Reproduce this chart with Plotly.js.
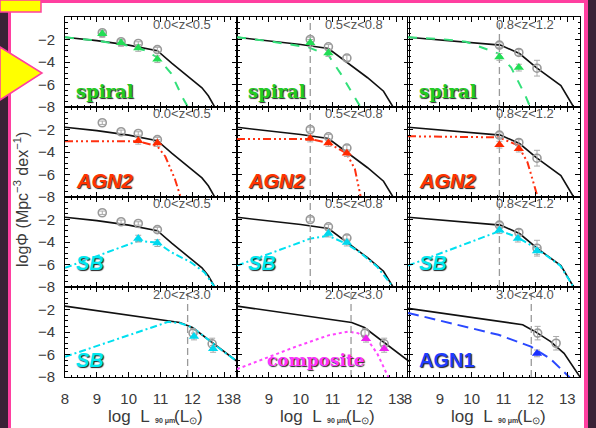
<!DOCTYPE html>
<html><head><meta charset="utf-8">
<script src="https://cdn.plot.ly/plotly-3.0.1.min.js"></script>
<style>html,body{margin:0;padding:0;background:#fff;}#plot{width:596px;height:428px;}</style>
</head><body><div id="plot"></div>
<script>
// ---------- DATA ----------
const xTickVals = [8, 9, 10, 11, 12, 13];
const yTickVals = [-8, -6, -4, -2];
const zLabels = ['0.0<z<0.5', '0.5<z<0.8', '0.8<z<1.2', '2.0<z<3.0', '3.0<z<4.0'];

// total luminosity function (black) per redshift bin
const totL_a = [8, 9, 10, 10.9, 11.35, 11.95, 12.3, 12.5, 12.7];
const totPhi_a = [-1.8, -2.1, -2.5, -3.0, -4.1, -5.5, -6.3, -7.0, -8.0];
const totL_b = [8, 9, 10, 10.87, 11.4, 12.1, 12.6, 12.9];
const totPhi_b = [-1.8, -2.1, -2.45, -2.8, -3.9, -5.4, -6.6, -8.0];
const totL_c = [8, 9, 10, 10.9, 11.5, 12.05, 12.8, 13.0, 13.2];
const totPhi_c = [-1.8, -2.05, -2.3, -2.5, -3.25, -4.55, -6.1, -7.0, -8.0];
const totL_d = [8, 9, 10, 11, 11.6, 12.0, 12.6, 13.0, 13.4];
const totPhi_d = [-1.7, -2.1, -2.5, -2.85, -3.15, -3.6, -4.9, -5.8, -6.6];
const totL_e = [8, 9.8, 11.36, 11.6, 11.98, 12.48, 12.9, 13.25, 13.4];
const totPhi_e = [-1.9, -2.6, -3.2, -3.35, -3.95, -4.85, -5.9, -7.3, -8.0];

// total data points (open circles)
const circL_a = [9.17, 9.76, 10.3, 10.9];
const circPhi_a = [-1.4, -2.2, -2.35, -2.9];
const circErr_a = [0.15, 0.15, 0.15, 0.2];
const circL_b = [10.3, 10.87, 11.45];
const circPhi_b = [-2.0, -2.65, -3.65];
const circErr_b = [0.2, 0.2, 0.25];
const circL_c = [10.87, 11.48, 12.05];
const circPhi_c = [-2.5, -3.15, -4.55];
const circErr_c = [0.2, 0.25, 0.7];
const circL_d = [12.02, 12.62];
const circPhi_d = [-4.1, -5.05];
const circErr_d = [0.4, 0.5];
const circL_e = [12.07, 12.65];
const circPhi_e = [-4.1, -5.0];
const circErr_e = [0.6, 0.6];

// population models
const spiralL_a = [8, 9, 10, 10.5, 10.9, 11.33, 11.7, 11.86];
const spiralPhi_a = [-1.8, -2.1, -2.55, -2.95, -3.6, -5.0, -7.2, -8.0];
const spiralL_b = [8, 9, 10.25, 10.87, 11.27, 11.7, 11.9];
const spiralPhi_b = [-1.8, -2.15, -2.7, -3.4, -5.1, -7.2, -8.1];
const spiralL_c = [8, 9, 9.82, 10.84, 11.24, 11.67, 11.85];
const spiralPhi_c = [-1.8, -1.95, -2.2, -3.25, -4.5, -6.9, -8.1];
const agn2L_a = [8, 10.3, 10.9, 11.15, 11.45, 11.6, 11.65];
const agn2Phi_a = [-3.05, -3.05, -3.5, -4.4, -6.4, -7.8, -8.2];
const agn2L_b = [8, 10.3, 10.87, 11.43, 11.7, 11.85, 11.9];
const agn2Phi_b = [-2.85, -2.85, -3.2, -4.1, -5.5, -7.8, -8.2];
const agn2L_c = [8, 10.85, 11.45, 11.75, 12.05, 12.1];
const agn2Phi_c = [-2.6, -2.7, -3.4, -4.9, -7.8, -8.2];
const sbL_a = [8, 10.3, 10.9, 11.33, 11.95, 12.38, 12.7];
const sbPhi_a = [-6.3, -3.9, -4.05, -4.9, -5.8, -6.7, -8.0];
const sbL_b = [8, 10.3, 10.87, 11.43, 11.85, 12.4, 12.9];
const sbPhi_b = [-6.1, -3.7, -3.45, -4.15, -4.9, -6.2, -8.0];
const sbL_c = [8, 10.9, 11.45, 12.05, 12.78, 13.2];
const sbPhi_c = [-6.1, -3.0, -3.6, -4.6, -6.1, -8.0];
const sbL_d = [8, 11.24, 11.6, 12.0, 12.6, 13.0, 13.4];
const sbPhi_d = [-6.2, -3.1, -3.2, -3.6, -4.9, -5.8, -6.6];
const compL_d = [8, 9.85, 10.87, 11.49, 11.8, 12.1, 12.4, 12.72, 12.8];
const compPhi_d = [-7.3, -5.3, -4.3, -3.96, -4.1, -4.7, -5.9, -7.8, -8.3];
const agn1L_e = [8, 10.84, 11.86, 12.48, 13.06, 13.2];
const agn1Phi_e = [-2.3, -4.25, -5.3, -6.4, -8.0, -8.4];

// population data points (filled triangles)
const spiralTriL_a = [9.17, 9.76, 10.3, 10.9];
const spiralTriPhi_a = [-1.5, -2.3, -2.75, -3.75];
const spiralTriL_b = [10.3, 10.87];
const spiralTriPhi_b = [-2.3, -3.2];
const spiralTriL_c = [10.87, 11.48];
const spiralTriPhi_c = [-3.55, -4.5];
const agn2TriL_a = [10.3, 10.9];
const agn2TriPhi_a = [-3.0, -3.2];
const agn2TriL_b = [10.3, 10.87, 11.45];
const agn2TriPhi_b = [-2.8, -3.2, -4.1];
const agn2TriL_c = [10.87, 11.48];
const agn2TriPhi_c = [-3.35, -3.7];
const sbTriL_a = [10.3, 10.9];
const sbTriPhi_a = [-3.7, -4.1];
const sbTriL_b = [10.87, 11.45];
const sbTriPhi_b = [-3.25, -4.05];
const sbTriL_c = [10.87, 11.45, 12.05];
const sbTriPhi_c = [-2.95, -3.7, -4.8];
const sbTriL_d = [12.05, 12.65];
const sbTriPhi_d = [-4.4, -5.5];
const compTriL_d = [12.05, 12.62];
const compTriPhi_d = [-4.6, -5.5];
const agn1TriL_e = [12.05];
const agn1TriPhi_e = [-5.9];

// completeness limits (vertical dashed lines), null = none
const limitL = [null, 10.3, 10.87, null, 10.3, 10.87, null, 10.3, 10.87, 11.85, 11.58, 11.87];

// ---------- STYLES ----------
const W = 596, H = 428;
const colLeft = [65, 237, 408], colW = 172;
const rowTop = [17, 107, 197, 287], rowH = 90;
const X = p => p / W, Y = p => 1 - p / H;

const pop = {
  spiral: {line: '#33e07a', dash: 'dash', tri: '#22dd55', txt: '#22cc22', font: 'DejaVu Serif', italic: false, size: 18},
  AGN2: {line: '#ff3010', dash: '8px,3px,2px,3px,2px,3px,2px,3px', tri: '#ff2a00', txt: '#ff3300', font: 'Liberation Sans', italic: true, size: 20},
  SB: {line: '#00e0f0', dash: '7px,3px,2px,3px', tri: '#00d8ee', txt: '#00e8f0', font: 'Liberation Sans', italic: true, size: 20},
  composite: {line: '#ff44ff', dash: 'dot', tri: '#ee22ee', txt: '#ff33ff', font: 'DejaVu Serif', italic: false, size: 17},
  AGN1: {line: '#2a48ff', dash: '11px,6px', tri: '#1a30ff', txt: '#1f3cff', font: 'Liberation Sans', italic: false, size: 20}
};

const panels = [
  {r:0,c:0,p:'spiral',tl:totL_a,tp:totPhi_a,ml:spiralL_a,mp:spiralPhi_a,cl:circL_a,cp:circPhi_a,ce:circErr_a,xl:spiralTriL_a,xp:spiralTriPhi_a,z:0},
  {r:0,c:1,p:'spiral',tl:totL_b,tp:totPhi_b,ml:spiralL_b,mp:spiralPhi_b,cl:circL_b,cp:circPhi_b,ce:circErr_b,xl:spiralTriL_b,xp:spiralTriPhi_b,z:1},
  {r:0,c:2,p:'spiral',tl:totL_c,tp:totPhi_c,ml:spiralL_c,mp:spiralPhi_c,cl:circL_c,cp:circPhi_c,ce:circErr_c,xl:spiralTriL_c,xp:spiralTriPhi_c,z:2},
  {r:1,c:0,p:'AGN2',tl:totL_a,tp:totPhi_a,ml:agn2L_a,mp:agn2Phi_a,cl:circL_a,cp:circPhi_a,ce:circErr_a,xl:agn2TriL_a,xp:agn2TriPhi_a,z:0},
  {r:1,c:1,p:'AGN2',tl:totL_b,tp:totPhi_b,ml:agn2L_b,mp:agn2Phi_b,cl:circL_b,cp:circPhi_b,ce:circErr_b,xl:agn2TriL_b,xp:agn2TriPhi_b,z:1},
  {r:1,c:2,p:'AGN2',tl:totL_c,tp:totPhi_c,ml:agn2L_c,mp:agn2Phi_c,cl:circL_c,cp:circPhi_c,ce:circErr_c,xl:agn2TriL_c,xp:agn2TriPhi_c,z:2},
  {r:2,c:0,p:'SB',tl:totL_a,tp:totPhi_a,ml:sbL_a,mp:sbPhi_a,cl:circL_a,cp:circPhi_a,ce:circErr_a,xl:sbTriL_a,xp:sbTriPhi_a,z:0},
  {r:2,c:1,p:'SB',tl:totL_b,tp:totPhi_b,ml:sbL_b,mp:sbPhi_b,cl:circL_b,cp:circPhi_b,ce:circErr_b,xl:sbTriL_b,xp:sbTriPhi_b,z:1},
  {r:2,c:2,p:'SB',tl:totL_c,tp:totPhi_c,ml:sbL_c,mp:sbPhi_c,cl:circL_c,cp:circPhi_c,ce:circErr_c,xl:sbTriL_c,xp:sbTriPhi_c,z:2},
  {r:3,c:0,p:'SB',tl:totL_d,tp:totPhi_d,ml:sbL_d,mp:sbPhi_d,cl:circL_d,cp:circPhi_d,ce:circErr_d,xl:sbTriL_d,xp:sbTriPhi_d,z:3},
  {r:3,c:1,p:'composite',tl:totL_d,tp:totPhi_d,ml:compL_d,mp:compPhi_d,cl:circL_d,cp:circPhi_d,ce:circErr_d,xl:compTriL_d,xp:compTriPhi_d,z:3},
  {r:3,c:2,p:'AGN1',tl:totL_e,tp:totPhi_e,ml:agn1L_e,mp:agn1Phi_e,cl:circL_e,cp:circPhi_e,ce:circErr_e,xl:agn1TriL_e,xp:agn1TriPhi_e,z:4}
];

const traces = [];
const layout = {
  width: W, height: H, margin: {l:0, r:0, t:0, b:0},
  paper_bgcolor: '#ffffff', plot_bgcolor: 'rgba(0,0,0,0)',
  showlegend: false, font: {family: 'Liberation Sans', color: '#333'},
  annotations: [], shapes: []
};

panels.forEach((P, i) => {
  const s = i === 0 ? '' : String(i + 1);
  const xa = 'x' + s, ya = 'y' + s;
  const st = pop[P.p];
  const x0 = colLeft[P.c], y0 = rowTop[P.r];
  layout['xaxis' + s] = {
    domain: [X(x0), X(x0 + colW)], range: [8, 13.4], anchor: ya,
    tickvals: xTickVals, ticks: 'inside', ticklen: 5, tickcolor: '#000', mirror: 'allticks',
    showline: true, linecolor: '#000', linewidth: 1, showgrid: false, zeroline: false,
    showticklabels: P.r === 3, tickfont: {size: 15, color: '#3a3a3a'}, ticklabelstandoff: 8,
    minor: {ticks: 'inside', dtick: 0.2, ticklen: 2.5, tickcolor: '#000', showgrid: false}
  };
  layout['yaxis' + s] = {
    domain: [Y(y0 + rowH), Y(y0)], range: [-8, 0], anchor: xa,
    tickvals: yTickVals, ticks: 'inside', ticklen: 5, tickcolor: '#000', mirror: 'allticks',
    showline: true, linecolor: '#000', linewidth: 1, showgrid: false, zeroline: false,
    showticklabels: P.c === 0, tickfont: {size: 15, color: '#3a3a3a'}, ticklabelstandoff: 6,
    minor: {ticks: 'inside', dtick: 0.5, ticklen: 2.5, tickcolor: '#000', showgrid: false}
  };
  traces.push({x: P.tl, y: P.tp, xaxis: xa, yaxis: ya, mode: 'lines', line: {color: '#111', width: 1.6}, hoverinfo: 'skip'});
  traces.push({x: P.ml, y: P.mp, xaxis: xa, yaxis: ya, mode: 'lines', line: {color: st.line, width: 2, dash: st.dash}, hoverinfo: 'skip'});
  if (limitL[i] !== null) {
    traces.push({x: [limitL[i], limitL[i]], y: [-8, 0], xaxis: xa, yaxis: ya, mode: 'lines', line: {color: '#9a9a9a', width: 1.3, dash: '7px,4px'}, hoverinfo: 'skip'});
  }
  traces.push({x: P.cl, y: P.cp, xaxis: xa, yaxis: ya, mode: 'markers',
    marker: {symbol: 'circle-open', size: 8, color: '#999', line: {width: 1.6, color: '#999'}},
    error_y: {type: 'data', array: P.ce, color: '#aaa', thickness: 1, width: 3}, hoverinfo: 'skip'});
  traces.push({x: P.xl, y: P.xp, xaxis: xa, yaxis: ya, mode: 'markers',
    marker: {symbol: 'triangle-up', size: 9, color: st.tri},
    error_y: {type: 'data', array: P.xl.map(() => 0.3), color: '#aaa', thickness: 1, width: 3}, hoverinfo: 'skip'});
  layout.annotations.push({xref: 'paper', yref: 'paper', x: X(x0 + colW - 55), y: Y(y0 + 7), xanchor: 'center', yanchor: 'middle',
    text: zLabels[P.z], showarrow: false, font: {size: 13, color: '#555', family: 'Liberation Sans'}});
  layout.annotations.push({xref: 'paper', yref: 'paper', x: X(x0 + (P.p === 'composite' ? 28 : 9)), y: Y(y0 + (P.r === 3 ? 73 : (P.r === 2 ? 66 : 74))), xanchor: 'left', yanchor: 'middle',
    text: P.p, showarrow: false,
    font: {size: st.size, color: st.txt, family: st.font, weight: 'bold', style: st.italic ? 'italic' : 'normal', shadow: '1px 1px 1px #222'}});
});

// x-axis titles, built from separate pieces (main text, tiny subscript, unit)
[0, 1, 2].forEach(c => {
  const cx = colLeft[c] + colW / 2;
  const f = {color: '#3a3a3a', family: 'Liberation Sans'};
  layout.annotations.push(
    {xref: 'paper', yref: 'paper', x: X(cx + 1), y: Y(416), xanchor: 'right', yanchor: 'middle', showarrow: false,
      text: 'log&nbsp;&nbsp;L', font: Object.assign({size: 17}, f)},
    {xref: 'paper', yref: 'paper', x: X(cx + 2), y: Y(421), xanchor: 'left', yanchor: 'middle', showarrow: false,
      text: '90 \u03bcm', font: Object.assign({size: 7, weight: 'bold'}, f)},
    {xref: 'paper', yref: 'paper', x: X(cx + 21), y: Y(416), xanchor: 'left', yanchor: 'middle', showarrow: false,
      text: '(L', font: Object.assign({size: 17}, f)},
    {xref: 'paper', yref: 'paper', x: X(cx + 36), y: Y(420), xanchor: 'left', yanchor: 'middle', showarrow: false,
      text: '\u2299', font: Object.assign({size: 10}, f)},
    {xref: 'paper', yref: 'paper', x: X(cx + 44), y: Y(416), xanchor: 'left', yanchor: 'middle', showarrow: false,
      text: ')', font: Object.assign({size: 17}, f)}
  );
});
layout.annotations.push({xref: 'paper', yref: 'paper', x: X(21), y: Y(200), xanchor: 'center', yanchor: 'middle', textangle: -90,
  text: 'log\u03a6 (Mpc<sup>\u22123</sup> dex<sup>\u22121</sup>)', showarrow: false, font: {size: 16, color: '#3a3a3a', family: 'Liberation Sans'}});

// slide decorations
layout.shapes.push(
  {type: 'rect', xref: 'paper', yref: 'paper', x0: 0, x1: X(9), y0: 0, y1: 1, fillcolor: '#3a2236', line: {width: 0}, layer: 'below'},
  {type: 'rect', xref: 'paper', yref: 'paper', x0: X(8), x1: X(11), y0: 0, y1: 1, fillcolor: '#ff3fa0', line: {width: 0}, layer: 'below'},
  {type: 'rect', xref: 'paper', yref: 'paper', x0: 0, x1: 1, y0: Y(3), y1: 1, fillcolor: '#ff3fa0', line: {width: 0}, layer: 'below'},
  {type: 'rect', xref: 'paper', yref: 'paper', x0: X(588), x1: 1, y0: 0, y1: 1, fillcolor: '#3a2236', line: {width: 0}, layer: 'below'},
  {type: 'rect', xref: 'paper', yref: 'paper', x0: X(584), x1: X(588), y0: 0, y1: 1, fillcolor: '#ff3fa0', line: {width: 0}, layer: 'below'},
  {type: 'rect', xref: 'paper', yref: 'paper', x0: 0, x1: X(41), y0: Y(12), y1: 1, fillcolor: '#ffff00', line: {width: 1.5, color: '#ff3fa0'}, layer: 'below'},
  {type: 'path', xref: 'paper', yref: 'paper', path: 'M 0 ' + Y(47) + ' L ' + X(42) + ' ' + Y(73) + ' L 0 ' + Y(100) + ' Z',
    fillcolor: '#ffff00', line: {width: 1.5, color: '#ff3fa0'}, layer: 'below'}
);

Plotly.newPlot('plot', traces, layout, {staticPlot: true, displayModeBar: false});
</script>
</body></html>
